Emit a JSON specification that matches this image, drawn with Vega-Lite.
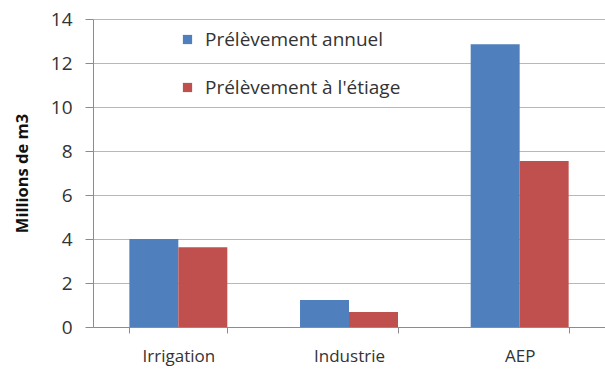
{
  "$schema": "https://vega.github.io/schema/vega-lite/v6.json",
  "width": 512,
  "height": 308,
  "autosize": {"type": "none"},
  "padding": {"left": 93, "top": 19, "right": 0, "bottom": 45},
  "background": "white",
  "data": {
    "values": [
      {"usage": "Irrigation", "serie": "Prélèvement annuel", "valeur": 4.0},
      {"usage": "Irrigation", "serie": "Prélèvement à l'étiage", "valeur": 3.62},
      {"usage": "Industrie", "serie": "Prélèvement annuel", "valeur": 1.23},
      {"usage": "Industrie", "serie": "Prélèvement à l'étiage", "valeur": 0.68},
      {"usage": "AEP", "serie": "Prélèvement annuel", "valeur": 12.85},
      {"usage": "AEP", "serie": "Prélèvement à l'étiage", "valeur": 7.55}
    ]
  },
  "mark": {"type": "bar"},
  "encoding": {
    "x": {
      "field": "usage",
      "type": "nominal",
      "sort": ["Irrigation", "Industrie", "AEP"],
      "scale": {"paddingInner": 0.426, "paddingOuter": 0.213},
      "axis": {
        "title": null,
        "labelAngle": 0,
        "tickBand": "extent",
        "labelFont": "Open Sans",
        "labelFontSize": 17,
        "labelColor": "#333333",
        "labelPadding": 15,
        "domainColor": "#8c8c8c",
        "tickColor": "#8c8c8c",
        "tickSize": 6,
        "grid": false
      }
    },
    "xOffset": {"field": "serie", "type": "nominal", "sort": ["Prélèvement annuel", "Prélèvement à l'étiage"], "scale": {"paddingInner": 0, "paddingOuter": 0}},
    "y": {
      "field": "valeur",
      "type": "quantitative",
      "scale": {"domain": [0, 14]},
      "axis": {
        "title": "Millions de m3",
        "titleFont": "Open Sans",
        "titleFontSize": 16.5,
        "titleFontWeight": "bold",
        "titleColor": "#111111",
        "titlePadding": 20,
        "values": [0, 2, 4, 6, 8, 10, 12, 14],
        "labelFont": "Open Sans",
        "labelFontSize": 19,
        "labelColor": "#333333",
        "labelPadding": 13,
        "domainColor": "#8c8c8c",
        "tickColor": "#8c8c8c",
        "tickSize": 8,
        "gridColor": "#b8b8b8",
        "gridWidth": 1.2
      }
    },
    "color": {
      "field": "serie",
      "type": "nominal",
      "sort": ["Prélèvement annuel", "Prélèvement à l'étiage"],
      "scale": {"range": ["#4F7FBC", "#C0504D"]},
      "legend": {
        "title": null,
        "orient": "none",
        "legendX": 85,
        "legendY": 11,
        "symbolType": "square",
        "symbolSize": 85,
        "symbolStrokeWidth": 0,
        "labelFont": "Open Sans",
        "labelFontSize": 19,
        "labelLimit": 400,
        "labelColor": "#333333",
        "rowPadding": 28,
        "labelOffset": 8
      }
    }
  },
  "config": {"view": {"stroke": null}}
}
